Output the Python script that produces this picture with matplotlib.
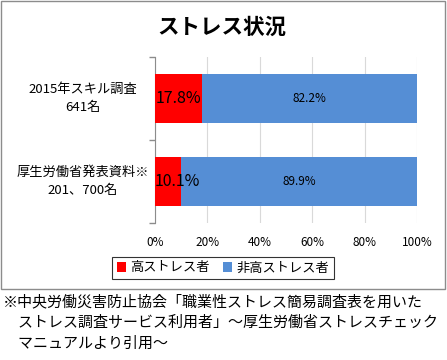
import matplotlib.pyplot as plt
from matplotlib.patches import Rectangle

plt.rcParams['font.family'] = ['Noto Sans CJK JP', 'DejaVu Sans']

# データ
categories = ["2015年スキル調査\n641名", "厚生労働省発表資料※\n201、700名"]
high_stress = [17.8, 10.1]
non_high_stress = [82.2, 89.9]
series_names = ["高ストレス者", "非高ストレス者"]
xticks = [0, 20, 40, 60, 80, 100]

red = "#FF0000"
blue = "#558ED5"

fig = plt.figure(figsize=(4.47, 3.6), dpi=100)

# グラフ外枠
fig.patches.append(Rectangle((1 / 447, 1 - 289 / 360), 444 / 447, 288 / 360,
                             transform=fig.transFigure, fill=False,
                             edgecolor="#8C8C8C", linewidth=1.0))

ax = fig.add_axes([155 / 447, 1 - 223 / 360, 262 / 447, 166 / 360])

y = [1, 0]
ax.barh(y, high_stress, height=0.58, color=red, label=series_names[0], zorder=3)
ax.barh(y, non_high_stress, left=high_stress, height=0.58, color=blue,
        label=series_names[1], zorder=3)

# ラベル（2本目の赤ラベルは少し右へずらす）
label_shift = [0, 3.5]
for yi, h, n, s in zip(y, high_stress, non_high_stress, label_shift):
    ax.text(h / 2 + s, yi, f"{h}%", ha="center", va="center", fontsize=11.5,
            color="black", zorder=4)
    ax.text(h + n / 2, yi, f"{n}%", ha="center", va="center", fontsize=8.5,
            color="black", zorder=4)

ax.set_xlim(0, 100)
ax.set_ylim(-0.5, 1.5)
ax.set_xticks(xticks)
ax.set_xticklabels([f"{t}%" for t in xticks], fontsize=8.5)
ax.tick_params(axis="x", length=0, pad=9)

ax.set_yticks([-0.5, 0.5, 1.5])
ax.set_yticklabels([])
ax.tick_params(axis="y", length=4, color="#8C8C8C", width=1)
for yi, c in zip(y, categories):
    ax.text(-0.275, yi, c, transform=ax.get_yaxis_transform(), ha="center",
            va="center", fontsize=9.5, linespacing=1.5)

ax.xaxis.grid(True, color="#D9D9D9", linewidth=0.8, zorder=0)
for sp in ["top", "right", "bottom"]:
    ax.spines[sp].set_visible(False)
ax.spines["left"].set_color("#8C8C8C")

fig.text(222 / 447, 1 - 27 / 360, "ストレス状況", ha="center", va="center",
         fontsize=15.5, fontweight="bold")

leg = fig.legend(loc="center", bbox_to_anchor=(223 / 447, 1 - 268 / 360),
                 ncol=2, frameon=True, fancybox=False, edgecolor="black",
                 fontsize=9.5, handlelength=0.7, handleheight=0.7,
                 handletextpad=0.3, columnspacing=1.0, borderpad=0.35,
                 borderaxespad=0)
leg.get_frame().set_linewidth(0.8)

notes = ["※中央労働災害防止協会「職業性ストレス簡易調査表を用いた",
         "\u3000ストレス調査サービス利用者」～厚生労働省ストレスチェック",
         "\u3000マニュアルより引用～"]
for i, line in enumerate(notes):
    fig.text(3 / 447, 1 - (302 + 21 * i) / 360, line, ha="left", va="center",
             fontsize=10.8)

fig.savefig("out.png", dpi=100)
